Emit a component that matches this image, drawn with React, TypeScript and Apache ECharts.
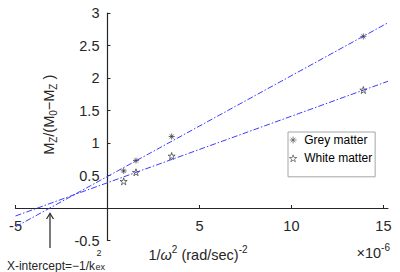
import React, { useEffect, useRef } from "react";
import * as echarts from "echarts";

// 1/omega^2 values (x 1e-6 (rad/sec)^-2)
const xValues = [0.88, 1.55, 3.49, 13.91];
// Mz/(M0-Mz)
const greyValues = [0.57, 0.73, 1.1, 2.64];
const whiteValues = [0.41, 0.55, 0.8, 1.815];
// fitted lines (endpoints)
const fitX = [-5, 15.25];
const greyFit = [-0.29, 2.85];
const whiteFit = [-0.123, 1.95];

const xTickValues = [-5, 0, 5, 10, 15];
const xLabelValues = [-5, 5, 10, 15];

const seriesNames = ["Grey matter", "White matter"];

const ASTERISK = "path://M5 0V10M0 5H10M1.6 1.6L8.4 8.4M1.6 8.4L8.4 1.6";
const STAR =
  "path://M50 0L61.23 34.55L97.55 34.55L68.17 55.9L79.39 90.45L50 69.1L20.61 90.45L31.83 55.9L2.45 34.55L38.77 34.55Z";

const FONT = "'Liberation Sans', Arial, sans-serif";
const AXIS_COLOR = "#262626";
const LINE_COLOR = "#3d3dff";
const MARK_COLOR = "#333333";

export default function App() {
  const ref = useRef<HTMLDivElement>(null);
  useEffect(() => {
    document.body.style.margin = "0";
    if (!ref.current) return;
    const chart = echarts.init(ref.current, null, { renderer: "svg" });
    const pts = (ys: number[]) => xValues.map((x, i) => [x, ys[i]]);
    const fit = (ys: number[]) => fitX.map((x, i) => [x, ys[i]]);
    const markerStyle = {
      color: "rgba(0,0,0,0)",
      borderColor: MARK_COLOR,
      borderWidth: 0.9,
    };
    const mainRich = {
      m: { fontSize: 14.5, fontFamily: FONT, lineHeight: 20, verticalAlign: "middle", color: AXIS_COLOR },
      i: { fontSize: 14.5, fontFamily: FONT, fontStyle: "italic", lineHeight: 20, verticalAlign: "middle", color: AXIS_COLOR },
      s: { fontSize: 10, fontFamily: FONT, lineHeight: 10, verticalAlign: "bottom", color: AXIS_COLOR },
      p: { fontSize: 10, fontFamily: FONT, lineHeight: 10, verticalAlign: "top", color: AXIS_COLOR },
    };
    chart.setOption({
      animation: false,
      backgroundColor: "#fff",
      grid: {
        left: 15.5,
        right: 12,
        top: 13,
        bottom: 31.5,
        containLabel: false,
        outerBoundsMode: "none",
      },
      xAxis: {
        type: "value",
        min: -5,
        max: 15.25,
        interval: 5,
        splitLine: { show: false },
        axisLine: { onZero: false, lineStyle: { color: AXIS_COLOR, width: 1.2 } },
        axisTick: {
          inside: true,
          length: 3,
          customValues: xTickValues,
          lineStyle: { color: AXIS_COLOR, width: 1 },
        },
        axisLabel: {
          customValues: xLabelValues,
          color: AXIS_COLOR,
          fontFamily: FONT,
          fontSize: 14.5,
          margin: 10,
        },
      },
      yAxis: {
        type: "value",
        min: -0.5,
        max: 3,
        interval: 0.5,
        splitLine: { show: false },
        name: "{m|M}{s|Z}{m|/(M}{s|0}{m|−M}{s|Z}{m| )}",
        nameLocation: "middle",
        nameRotate: 90,
        nameGap: 48.5,
        nameTextStyle: { rich: mainRich, padding: [0, 0, 0, 24] },
        axisLine: { show: true, onZero: false, lineStyle: { color: AXIS_COLOR, width: 1.2 } },
        axisTick: {
          show: true,
          inside: true,
          length: 3,
          lineStyle: { color: AXIS_COLOR, width: 1 },
        },
        axisLabel: {
          color: AXIS_COLOR,
          fontFamily: FONT,
          fontSize: 14.5,
          margin: 8,
          formatter: (v: number) => (v === 0 ? "" : String(v)),
        },
      },
      legend: {
        orient: "vertical",
        left: 288,
        top: 132,
        padding: [2, 3, 12.5, 1],
        itemWidth: 12,
        itemHeight: 7,
        itemGap: 6.3,
        borderColor: "#a6a6a6",
        borderWidth: 1,
        backgroundColor: "#fff",
        selectedMode: false,
        textStyle: { fontSize: 12, lineHeight: 12, color: "#000", fontFamily: FONT },
        data: [
          { name: seriesNames[0], icon: ASTERISK, itemStyle: { color: "rgba(0,0,0,0)", borderColor: "#555", borderWidth: 0.9 } },
          { name: seriesNames[1], icon: STAR, itemStyle: { color: "rgba(0,0,0,0)", borderColor: "#555", borderWidth: 0.9 } },
        ],
      },
      series: [
        {
          type: "line",
          name: "grey fit",
          data: fit(greyFit),
          showSymbol: false,
          silent: true,
          lineStyle: { color: LINE_COLOR, width: 1, type: [6, 2, 1.5, 2] },
        },
        {
          type: "line",
          name: "white fit",
          data: fit(whiteFit),
          showSymbol: false,
          silent: true,
          lineStyle: { color: LINE_COLOR, width: 1, type: [6, 2, 1.5, 2] },
        },
        {
          type: "scatter",
          name: seriesNames[0],
          data: pts(greyValues),
          symbol: ASTERISK,
          symbolSize: 6,
          itemStyle: markerStyle,
        },
        {
          type: "scatter",
          name: seriesNames[1],
          data: pts(whiteValues),
          symbol: STAR,
          symbolSize: 7,
          itemStyle: markerStyle,
        },
      ],
      graphic: [
        {
          type: "text",
          x: 198,
          y: 254.5,
          style: {
            text: "{m|1/}{i|ω}{p|2}{m| (rad/sec)}{p|-2}",
            align: "center",
            verticalAlign: "middle",
            fill: AXIS_COLOR,
            rich: mainRich,
          },
        },
        {
          type: "text",
          x: 390,
          y: 252.5,
          style: {
            text: "{m|×10}{p|-6}",
            align: "right",
            verticalAlign: "middle",
            fill: AXIS_COLOR,
            rich: mainRich,
          },
        },
        {
          type: "text",
          x: 95,
          y: 266,
          style: {
            text: "X-intercept=−1/k",
            align: "right",
            verticalAlign: "middle",
            fontSize: 12,
            fontFamily: FONT,
            fill: AXIS_COLOR,
          },
        },
        {
          type: "text",
          x: 96.5,
          y: 253,
          style: { text: "2", align: "left", verticalAlign: "middle", fontSize: 9, fontFamily: FONT, fill: AXIS_COLOR },
        },
        {
          type: "text",
          x: 95.5,
          y: 267,
          style: { text: "ex", align: "left", verticalAlign: "middle", fontSize: 9, fontFamily: FONT, fill: AXIS_COLOR },
        },
        {
          type: "line",
          shape: { x1: 50, y1: 248, x2: 50, y2: 213.5 },
          style: { stroke: "#333", lineWidth: 1.3 },
        },
        {
          type: "polyline",
          shape: { points: [[46.5, 219], [50, 213.5], [53.5, 219]] },
          style: { stroke: "#333", lineWidth: 1.3, fill: null },
        },
      ],
    });
    // move both axes (line, ticks, labels) to cross at the origin
    const origin = chart.convertToPixel({ gridIndex: 0 }, [0, 0]) as number[];
    const corner = chart.convertToPixel({ gridIndex: 0 }, [-5, -0.5]) as number[];
    chart.setOption({
      xAxis: { offset: -(corner[1] - origin[1]) },
      yAxis: { offset: -(origin[0] - corner[0]) },
    });
    return () => chart.dispose();
  }, []);
  return <div ref={ref} style={{ width: 400, height: 272 }} />;
}
